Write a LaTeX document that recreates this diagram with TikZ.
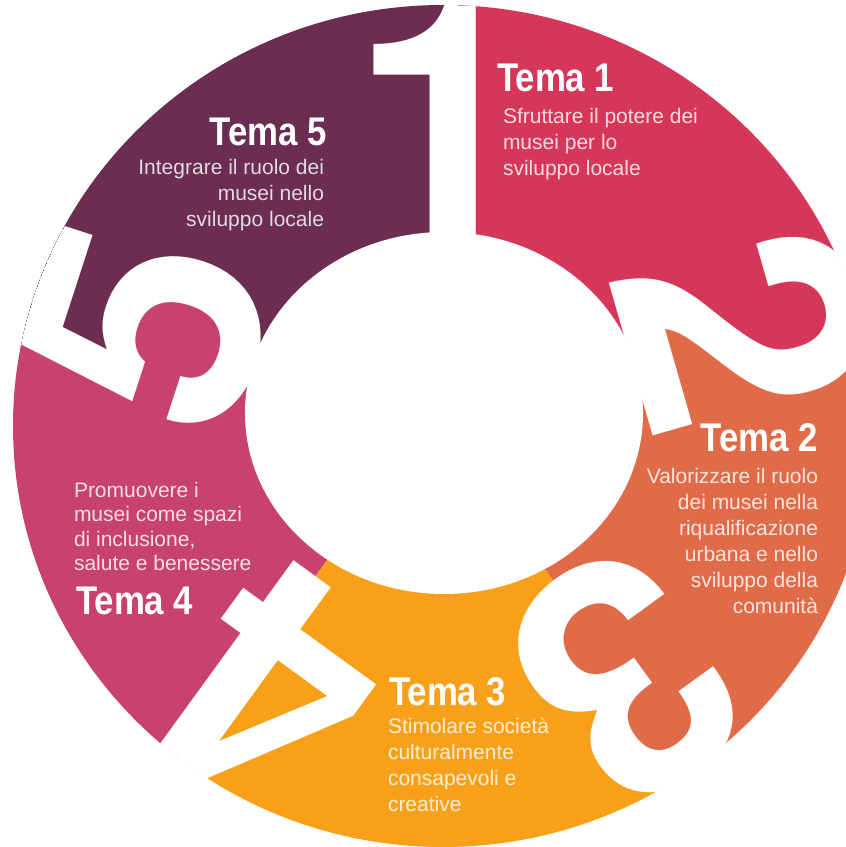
\documentclass[tikz,border=0pt]{standalone}
\usepackage{fontspec}
\setmainfont{Liberation Sans}
\newfontfamily\numfont{TeX Gyre Heros}
\newfontfamily\temafont{Liberation Sans}[FakeStretch=0.87]
\definecolor{plum}{HTML}{6B2D51}
\definecolor{crimson}{HTML}{D63658}
\definecolor{coral}{HTML}{E06B48}
\definecolor{amber}{HTML}{F8A01A}
\definecolor{rosa}{HTML}{C8426F}
\begin{document}
\begin{tikzpicture}[x=1pt, y=1pt,
  numeral/.style={anchor=base, inner sep=0pt, outer sep=0pt, text=white, transform shape,
    font=\numfont\bfseries\fontsize{330}{330}\selectfont},
  tema/.style={inner sep=0pt, outer sep=0pt, text=white, font=\temafont\bfseries\fontsize{40}{40}\selectfont},
  testo/.style={inner sep=0pt, outer sep=0pt, font=\fontsize{21}{26}\selectfont}]
\useasboundingbox (0,0) rectangle (846,847);
\coordinate (cout) at (443,421);
\coordinate (cin) at (444,434);
\begin{scope}
  \clip (cout) ellipse [x radius=430, y radius=421];
  % numbers and the lines that split the ring
  \begin{scope}[shift={(443,610)}, rotate=0, x=330pt, y=330pt]
    \coordinate (d1a) at (0.03,-0.5);
    \coordinate (d1b) at (0.03,1.3);
  \end{scope}
  \begin{scope}[shift={(632,485)}, rotate=-74, x=330pt, y=330pt]
    \coordinate (d2a) at (-0.01,-0.5);
    \coordinate (d2b) at (-0.01,0.065);
    \coordinate (d2c) at (-0.18,0.08);
    \coordinate (d2d) at (0.08,0.33);
    \coordinate (d2e) at (0.16,0.47);
    \coordinate (d2f) at (0.10,0.62);
    \coordinate (d2g) at (0,0.65);
    \coordinate (d2h) at (0,1.3);
  \end{scope}
  \begin{scope}[shift={(555,264)}, rotate=-144, x=330pt, y=330pt]
    \coordinate (d3a) at (0,-0.5);
    \coordinate (d3b) at (0,0.06);
    \coordinate (d3c) at (0.12,0.11);
    \coordinate (d3d) at (0.18,0.21);
    \coordinate (d3e) at (0.12,0.33);
    \coordinate (d3f) at (0.04,0.39);
    \coordinate (d3g) at (0.12,0.47);
    \coordinate (d3h) at (0.15,0.55);
    \coordinate (d3i) at (0.09,0.64);
    \coordinate (d3j) at (0,0.66);
    \coordinate (d3k) at (0,1.3);
  \end{scope}
  \begin{scope}[shift={(339,253)}, rotate=144, x=330pt, y=330pt]
    \coordinate (d4a) at (0.09,-0.5);
    \coordinate (d4b) at (0.09,1.3);
  \end{scope}
  \begin{scope}[shift={(255,486)}, rotate=72, x=330pt, y=330pt]
    \coordinate (d5a) at (0,-0.5);
    \coordinate (d5b) at (0,0.06);
    \coordinate (d5c) at (0.12,0.11);
    \coordinate (d5d) at (0.17,0.23);
    \coordinate (d5e) at (0.12,0.36);
    \coordinate (d5f) at (0.02,0.41);
    \coordinate (d5g) at (-0.13,0.44);
    \coordinate (d5h) at (-0.14,0.6);
    \coordinate (d5i) at (-0.14,1.3);
  \end{scope}
  \fill[crimson] (d1a) -- (d1b) -- (d2h) -- (d2g) -- (d2f) -- (d2e) -- (d2d) -- (d2c) -- (d2b) -- (d2a) -- cycle;
  \fill[coral] (d2a) -- (d2b) -- (d2c) -- (d2d) -- (d2e) -- (d2f) -- (d2g) -- (d2h)
    -- (d3k) -- (d3j) -- (d3i) -- (d3h) -- (d3g) -- (d3f) -- (d3e) -- (d3d) -- (d3c) -- (d3b) -- (d3a) -- cycle;
  \fill[amber] (d3a) -- (d3b) -- (d3c) -- (d3d) -- (d3e) -- (d3f) -- (d3g) -- (d3h) -- (d3i) -- (d3j) -- (d3k)
    -- (d4b) -- (d4a) -- cycle;
  \fill[rosa] (d4a) -- (d4b) -- (d5i) -- (d5h) -- (d5g) -- (d5f) -- (d5e) -- (d5d) -- (d5c) -- (d5b) -- (d5a) -- cycle;
  \fill[plum] (d5a) -- (d5b) -- (d5c) -- (d5d) -- (d5e) -- (d5f) -- (d5g) -- (d5h) -- (d5i) -- (d1b) -- (d1a) -- cycle;
  \node[numeral, rotate=0] (n1) at (443,610) {1};
  \node[numeral, rotate=-74] (n2) at (632,485) {2};
  \node[numeral, rotate=-144] (n3) at (555,264) {3};
  \node[numeral, rotate=144] (n4) at (339,253) {4};
  \node[numeral, rotate=72] (n5) at (255,486) {5};
\end{scope}
\fill[white] (cin) ellipse [x radius=199, y radius=181];
% titles and texts
\node[tema, anchor=base west] (tema1) at (497,755) {Tema 1};
\node[testo, text=white!82!crimson, align=left, anchor=north west] (testo1) at (503,739)
  {Sfruttare il potere dei\\musei per lo\\sviluppo locale};
\node[tema, anchor=base east] (tema2) at (818,395) {Tema 2};
\node[testo, text=white!82!coral, align=right, anchor=north east] (testo2) at (818,379)
  {Valorizzare il ruolo\\dei musei nella\\riqualificazione\\urbana e nello\\sviluppo della\\comunità};
\node[tema, anchor=base west] (tema3) at (389,141) {Tema 3};
\node[testo, text=white!82!amber, align=left, anchor=north west] (testo3) at (388,129)
  {Stimolare società\\culturalmente\\consapevoli e\\creative};
\node[tema, anchor=base west] (tema4) at (76,232) {Tema 4};
\node[testo, text=white!82!rosa, align=left, anchor=north west, font=\fontsize{21}{24.5}\selectfont] (testo4) at (74,365)
  {Promuovere i\\musei come spazi\\di inclusione,\\salute e benessere};
\node[tema, anchor=base east] (tema5) at (327,701) {Tema 5};
\node[testo, text=white!82!plum, align=right, anchor=north east] (testo5) at (324,688)
  {Integrare il ruolo dei\\musei nello\\sviluppo locale};
\end{tikzpicture}
\end{document}
